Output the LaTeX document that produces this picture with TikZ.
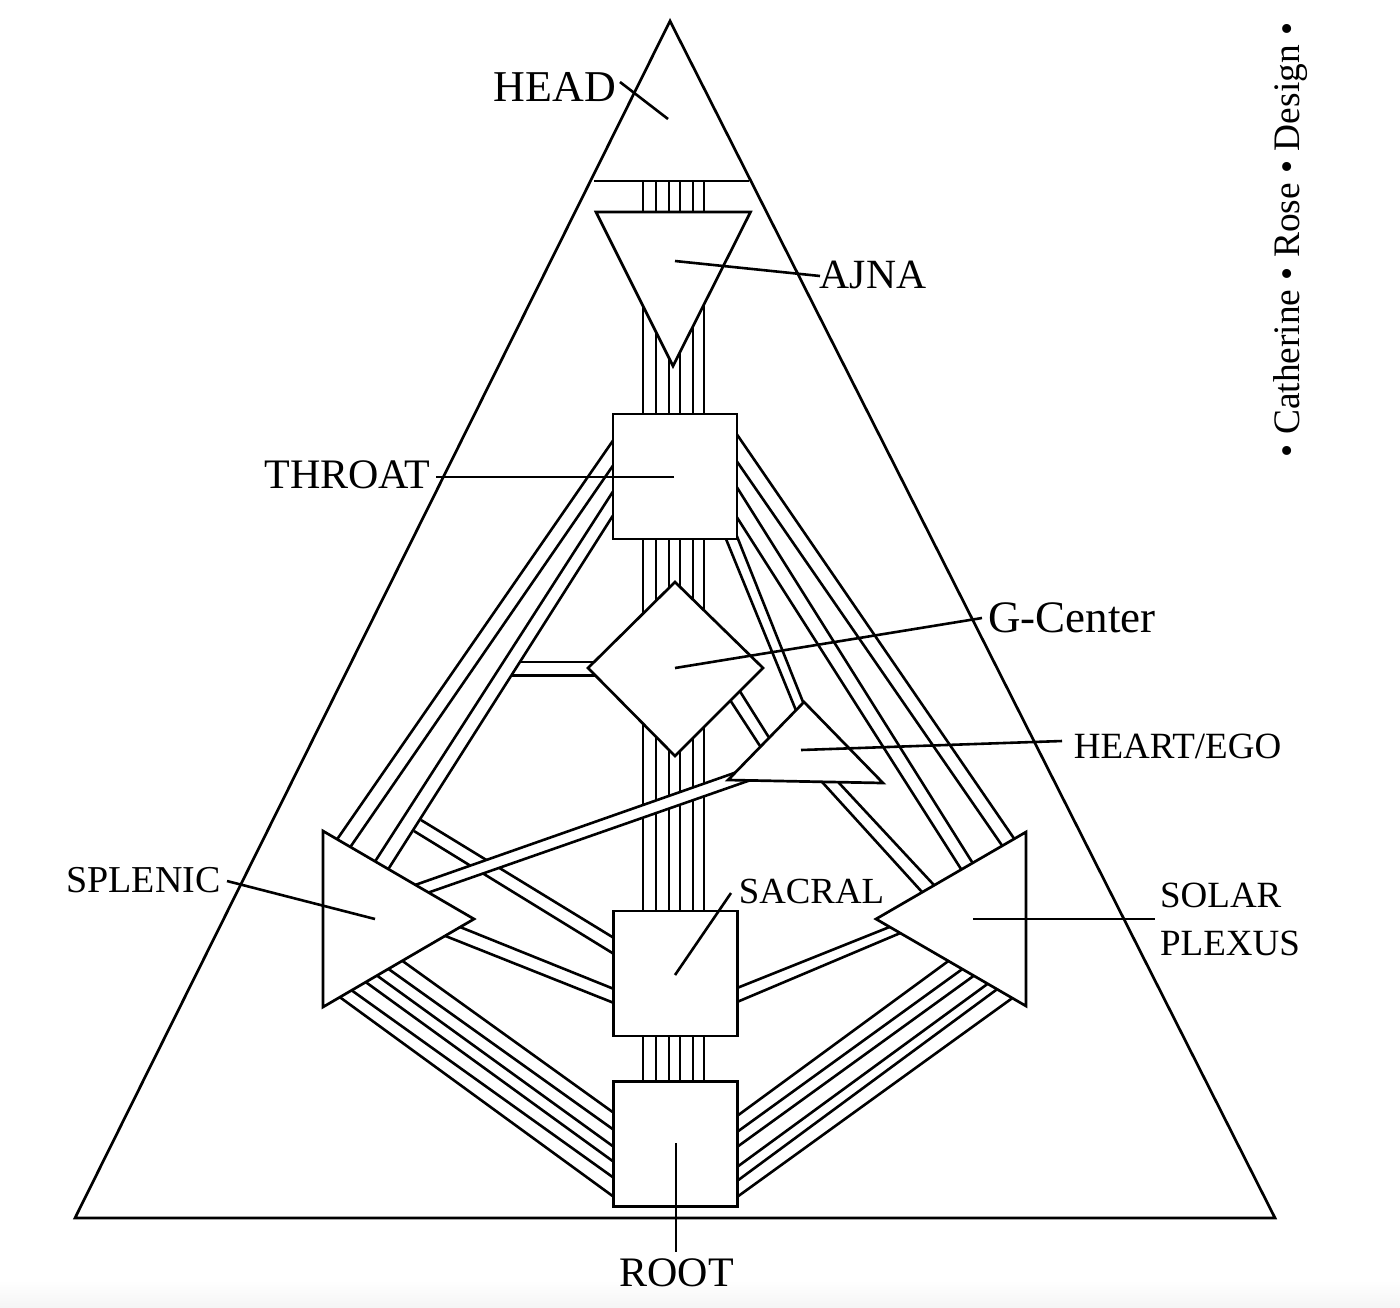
\documentclass[tikz,border=0pt]{standalone}
\usepackage{fontspec}
\setmainfont{Liberation Serif}
\newcommand\chan[4][]{\coordinate (#2a) at (#3); \coordinate (#2b) at (#4); \draw[channel,#1] (#2a) -- (#2b);}
\definecolor{floorgrey}{HTML}{F5F5F5}
\tikzset{
  x=0.5pt,y=-0.5pt,
  frame/.style={draw=black,line width=1.35pt,line join=miter},
  channel/.style={draw=black,line width=1.3pt,line cap=butt,shorten <=-3pt,shorten >=-3pt},
  freestart/.style={shorten <=0pt},
  centre/.style={draw=black,fill=white,line width=1.35pt,line join=miter},
  boxc/.style={centre,rectangle,minimum width=62pt,minimum height=62.5pt,inner sep=0pt,outer sep=0pt},
  leader/.style={draw=black,line width=1.3pt},
  lab/.style={inner sep=0pt,text=black,anchor=center}
}
\begin{document}
\begin{tikzpicture}
\useasboundingbox (0,0) rectangle (1400,1307);
\fill[white] (0,0) rectangle (1400,1307);
\shade[top color=white,bottom color=floorgrey] (0,1280) rectangle (1400,1307);
% outer triangle
\coordinate (apex) at (670,21);
\coordinate (bl) at (75,1218);
\coordinate (br) at (1275,1218);
\draw[frame] (apex) -- (bl) -- (br) -- cycle;
\coordinate (hbL) at (594,181);
\coordinate (hbR) at (749,181);
\draw[frame] (hbL) -- (hbR);
% vertical channels
\foreach \i/\x in {1/643,2/656,3/669,4/680,5/693,6/704}{
  \chan[freestart]{ha\i}{\x,181}{\x,212}
  \chan{at\i}{\x,250}{\x,414}
  \chan{ts\i}{\x,539}{\x,911}
  \chan{sr\i}{\x,1036}{\x,1082}
}
% throat - splenic
\chan{tl1}{612,442}{338,838}
\chan{tl2}{612,467}{351,846}
\chan{tl3}{612,493}{376,860}
\chan{tl4}{612,517}{389,868}
% g - splenic
\chan[freestart]{gl1}{520,662}{600,662}
\chan[freestart]{gl2}{511,675.5}{600,675.5}
% sacral - splenic
\chan[freestart]{sl1}{421,820}{614,938}
\chan[freestart]{sl2}{414,831}{614,954}
\chan{sl3}{465,929}{614,989}
\chan{sl4}{448,937}{614,1003}
% heart - splenic (white band)
\coordinate (hs1a) at (415,885);
\coordinate (hs1b) at (737,772);
\coordinate (hs2a) at (430,892);
\coordinate (hs2b) at (745,782);
\fill[white] (hs1a) -- (hs1b) -- (hs2b) -- (hs2a) -- cycle;
\draw[channel] (hs1a) -- (hs1b);
\draw[channel] (hs2a) -- (hs2b);
% root - splenic
\chan{rl1}{404,962}{614,1113}
\chan{rl2}{390,970}{614,1130}
\chan{rl3}{379,977}{614,1147}
\chan{rl4}{367,983}{614,1162}
\chan{rl5}{354,992}{614,1178}
\chan{rl6}{341,998}{614,1197}
% root - solar
\chan{rr1}{737,1116}{947,962}
\chan{rr2}{737,1132}{961,970}
\chan{rr3}{737,1147}{972,977}
\chan{rr4}{737,1167}{986,985}
\chan{rr5}{737,1181}{996,990}
\chan{rr6}{737,1197}{1011,999}
% sacral - solar
\chan{ss1}{737,988}{887,928}
\chan{ss2}{737,1002}{898,934}
% heart - solar
\chan{hr1}{823,783}{922,892}
\chan{hr2}{840,784}{933,884}
% g - heart
\chan{gh1}{732,703}{760,746}
\chan{gh2}{741,693}{768,736}
% throat - heart
\chan{th1}{726,539}{795,708}
\chan{th2}{738,539}{803,702}
% throat - solar
\chan{tr1}{738,436}{1013,837}
\chan{tr2}{738,463}{1001,844}
\chan{tr3}{738,489}{972,862}
\chan{tr4}{738,519}{961,869}
% centres
\node[boxc] (throat) at (675,476.5) {};
\node[boxc] (sacral) at (675.5,973.5) {};
\node[boxc] (root) at (675.5,1144) {};
\filldraw[centre] (596,212) coordinate (aj1) -- (750.5,212) coordinate (aj2) -- (673,366) coordinate (aj3) -- cycle;
\filldraw[centre] (675,582) coordinate (g1) -- (763,668) coordinate (g2) -- (675,756) coordinate (g3) -- (588,668) coordinate (g4) -- cycle;
\filldraw[centre] (804,702) coordinate (he1) -- (883,783) coordinate (he2) -- (728,780) coordinate (he3) -- cycle;
\filldraw[centre] (323,831) coordinate (sp1) -- (474,919) coordinate (sp2) -- (323,1007) coordinate (sp3) -- cycle;
\filldraw[centre] (1026,832) coordinate (so1) -- (1026,1006) coordinate (so2) -- (876,919) coordinate (so3) -- cycle;
% labels
\node[lab,font=\fontsize{22}{24}\selectfont] (lhead) at (555,87) {HEAD};
\node[lab,font=\fontsize{20.8}{24}\selectfont] (lajna) at (873,275) {AJNA};
\node[lab,font=\fontsize{21}{24}\selectfont] (lthroat) at (347.5,475) {THROAT};
\node[lab,font=\fontsize{22.5}{24}\selectfont] (lg) at (1072,618) {G-Center};
\node[lab,font=\fontsize{18.5}{20}\selectfont] (lheart) at (1177.5,746) {HEART/EGO};
\node[lab,font=\fontsize{19}{22}\selectfont] (lspl) at (143.5,880) {SPLENIC};
\node[lab,font=\fontsize{18.4}{20}\selectfont] (lsac) at (811.5,891) {SACRAL};
\node[lab,font=\fontsize{18.5}{24}\selectfont,align=left] (lsol) at (1230,919) {SOLAR\\PLEXUS};
\node[lab,font=\fontsize{21}{24}\selectfont] (lroot) at (676.5,1273) {ROOT};
\node[lab,font=\fontsize{18.7}{22}\selectfont,rotate=90] (credit) at (1291,240) {• Catherine • Rose • Design •};
% leaders
\coordinate (e1) at (668,119);\coordinate (f1) at (620,82);
\coordinate (e2) at (675,261);\coordinate (f2) at (820,276);
\coordinate (e3) at (674,477);\coordinate (f3) at (436,477);
\coordinate (e4) at (675,668);\coordinate (f4) at (982,618);
\coordinate (e5) at (801,750);\coordinate (f5) at (1062,741);
\coordinate (e6) at (375,919);\coordinate (f6) at (227,881);
\coordinate (e7) at (675,975);\coordinate (f7) at (731,893);
\coordinate (e8) at (973,919);\coordinate (f8) at (1155,919);
\coordinate (e9) at (676,1143);\coordinate (f9) at (676,1252);
\foreach \i in {1,...,9}{\draw[leader] (e\i) -- (f\i);}
\end{tikzpicture}
\end{document}
